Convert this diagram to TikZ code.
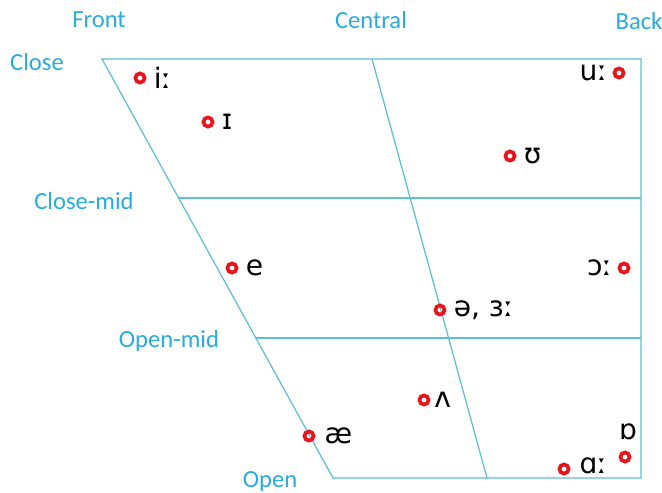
\documentclass[tikz,border=0pt]{standalone}
\usepackage{fontspec}
\setmainfont{Carlito}
\newfontfamily\ipafont{DejaVu Sans}
\usetikzlibrary{positioning}
\definecolor{ChartCyan}{HTML}{29ABE2}
\definecolor{LineCyan}{HTML}{5CBFD3}
\definecolor{DotRed}{HTML}{E8141C}

\begin{document}
\begin{tikzpicture}[x=0.02cm,y=-0.02cm,
    grid/.style={draw=LineCyan, line width=0.7pt},
    axis/.style={text=ChartCyan, font=\fontsize{14}{16}\selectfont, inner sep=0pt},
    dot/.style={circle, draw=DotRed, line width=2.1pt, minimum size=5.2pt, inner sep=0pt},
    ipa/.style={font=\ipafont\fontsize{16}{18}\selectfont, inner sep=1pt}
  ]
  \useasboundingbox (0,0) rectangle (662,493);

  % corners of the trapezium
  \coordinate (CF) at (102,59);
  \coordinate (CB) at (641,59);
  \coordinate (OF) at (333,478);
  \coordinate (OB) at (641,478);
  \coordinate (CMF) at (178.6,198);
  \coordinate (CMB) at (641,198);
  \coordinate (OMF) at (255.7,338);
  \coordinate (OMB) at (641,338);
  \coordinate (CC) at (372,59);
  \coordinate (OC) at (487,478);

  \draw[grid] (CF) -- (CB) -- (OB) -- (OF) -- cycle;
  \draw[grid] (CMF) -- (CMB);
  \draw[grid] (OMF) -- (OMB);
  \draw[grid] (CC) -- (OC);

  % axis labels
  \node[axis] (front) at (99,20) {Front};
  \node[axis] (central) at (371,20) {Central};
  \node[axis] (back) at (639,21) {Back};
  \node[axis] (close) at (37,62) {Close};
  \node[axis] (closemid) at (84,201) {Close-mid};
  \node[axis] (openmid) at (169,341) {Open-mid};
  \node[axis] (open) at (270,481) {Open};

  % vowels
  \node[dot] (vi) at (140,78) {};
  \node[ipa, right=3pt of vi] (li) {iː};
  \node[dot] (vI) at (208,122) {};
  \node[ipa, right=3pt of vI] (lI) {ɪ};
  \node[dot] (vU) at (510,156) {};
  \node[ipa, right=3pt of vU] (lU) {ʊ};
  \node[dot] (vu) at (619,73) {};
  \node[ipa, left=2pt of vu] (lu) {uː};
  \node[dot] (ve) at (232,268) {};
  \node[ipa, right=3pt of ve] (le) {e};
  \node[dot] (vo) at (624,268) {};
  \node[ipa, left=2pt of vo] (lo) {ɔː};
  \node[dot] (vschwa) at (440,310) {};
  \node[ipa, right=3pt of vschwa] (lschwa) {ə, ɜː};
  \node[dot] (vV) at (424,400) {};
  \node[ipa, right=1pt of vV] (lV) {ʌ};
  \node[dot] (vae) at (309,436) {};
  \node[ipa, right=4pt of vae] (lae) {æ};
  \node[dot] (vQ) at (625,457) {};
  \node[ipa] (lQ) at (628,432) {ɒ};
  \node[dot] (vA) at (564,469) {};
  \node[ipa, right=4pt of vA, yshift=2pt] (lA) {ɑː};
\end{tikzpicture}
\end{document}
